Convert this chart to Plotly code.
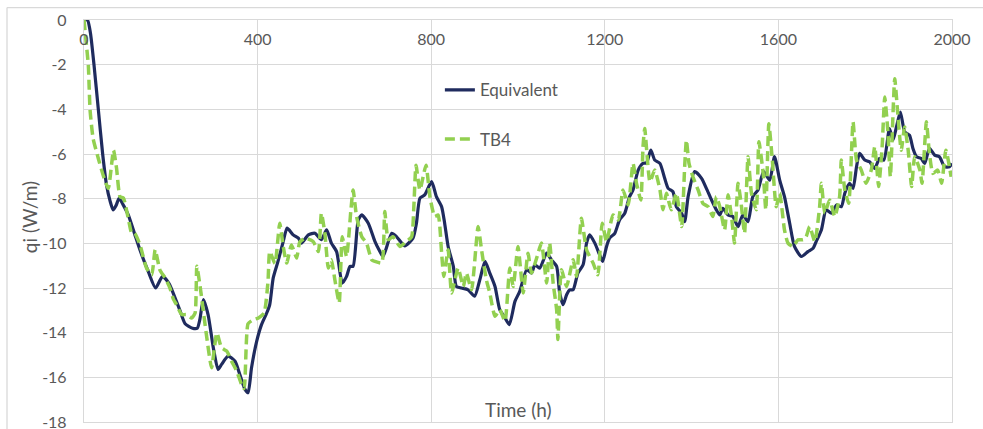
import plotly.graph_objects as go

# ---- Data ----
eq_t = [0, 8, 15, 23, 33, 43, 52, 60, 67, 74, 81, 91, 102, 117, 129, 148, 165, 181, 196, 213,
        221, 233, 250, 261, 267, 275, 286, 298, 309, 317, 332, 348, 359, 371, 378, 386, 398, 409,
        421, 428, 436, 447, 459, 468, 482, 494, 501, 517, 532, 547, 559, 570, 582, 595, 605, 613,
        620, 632, 640, 655, 670, 680, 689, 709, 720, 739, 758, 766, 774, 785, 801, 812, 824, 831,
        839, 851, 858, 870, 885, 900, 912, 924, 935, 947, 958, 970, 980, 993, 1004, 1020, 1031,
        1039, 1050, 1066, 1077, 1089, 1096, 1104, 1112, 1119, 1127, 1138, 1150, 1158, 1165, 1177,
        1188, 1195, 1204, 1211, 1223, 1234, 1246, 1257, 1265, 1277, 1288, 1296, 1306, 1315, 1327,
        1338, 1346, 1357, 1365, 1377, 1384, 1392, 1407, 1423, 1434, 1446, 1457, 1465, 1472, 1484,
        1495, 1507, 1518, 1530, 1541, 1553, 1566, 1580, 1591, 1603, 1614, 1626, 1637, 1653, 1668,
        1680, 1687, 1699, 1710, 1722, 1734, 1745, 1753, 1764, 1772, 1780, 1787, 1799, 1810, 1822,
        1833, 1843, 1856, 1864, 1872, 1881, 1891, 1902, 1910, 1918, 1929, 1937, 1948, 1960, 1971,
        1983, 1994, 2000]
eq_q = [0.0, 0.0, -0.6, -2.0, -4.0, -6.0, -7.4, -8.1, -8.5, -8.3, -7.98, -8.3, -8.73, -9.6, -10.3,
        -11.26, -12.0, -11.48, -11.8, -12.6, -13.0, -13.6, -13.8, -13.8, -13.4, -12.52, -13.2,
        -14.68, -15.65, -15.42, -15.05, -15.28, -15.87, -16.54, -16.69, -15.57, -14.38, -13.64,
        -13.12, -12.74, -11.55, -10.81, -9.92, -9.32, -9.62, -9.77, -9.99, -9.62, -9.55, -9.84,
        -9.4, -9.99, -10.37, -11.78, -11.48, -11.03, -11.03, -8.95, -8.73, -9.1, -9.9, -10.3,
        -10.59, -9.55, -9.7, -10.11, -9.77, -9.1, -7.98, -7.83, -7.24, -7.91, -8.36, -9.1, -10.14,
        -11.03, -11.93, -12.0, -12.08, -12.37, -11.63, -10.81, -11.33, -11.93, -12.97, -13.34,
        -13.64, -12.6, -12.15, -11.18, -11.33, -10.96, -11.11, -10.44, -10.74, -11.03, -12.22,
        -12.75, -12.3, -12.08, -12.08, -11.33, -10.96, -9.99, -9.62, -9.99, -10.51, -10.81,
        -10.14, -9.77, -9.55, -8.95, -8.65, -7.91, -7.61, -6.72, -6.42, -6.4, -5.83, -6.27,
        -6.42, -7.09, -7.54, -7.69, -8.36, -8.65, -9.03, -7.91, -6.79, -7.09, -7.54, -8.06,
        -8.5, -8.73, -8.43, -8.73, -8.8, -9.25, -8.73, -9.03, -7.91, -7.61, -6.79, -7.17, -6.12,
        -7.17, -7.91, -9.1, -10.14, -10.59, -10.37, -10.22, -9.92, -9.4, -8.5, -8.65, -8.28,
        -8.36, -7.76, -7.31, -7.54, -6.57, -5.97, -6.27, -6.35, -6.64, -6.2, -6.27, -4.86, -5.38,
        -4.79, -4.12, -5.01, -5.16, -5.75, -6.12, -6.2, -6.42, -5.75, -6.05, -6.12, -6.57, -6.57,
        -6.42]

tb_t = [0, 5, 10, 14, 21, 33, 44, 56, 68, 75, 83, 91, 102, 110, 117, 129, 144, 156, 164, 175,
        187, 198, 206, 213, 225, 236, 248, 256, 260, 267, 275, 283, 294, 306, 317, 329, 340, 352,
        363, 369, 378, 390, 402, 415, 424, 428, 440, 451, 459, 467, 478, 490, 497, 509, 528, 540,
        547, 555, 563, 570, 578, 588, 595, 605, 615, 620, 628, 640, 651, 663, 670, 686, 693, 701,
        712, 728, 743, 755, 760, 765, 774, 788, 797, 808, 816, 824, 829, 839, 847, 862, 874, 881,
        893, 908, 916, 927, 935, 947, 958, 970, 981, 989, 1000, 1012, 1023, 1031, 1043, 1054,
        1066, 1073, 1081, 1089, 1092, 1100, 1112, 1127, 1135, 1146, 1158, 1173, 1184, 1194, 1204,
        1219, 1231, 1242, 1254, 1265, 1273, 1283, 1288, 1292, 1304, 1315, 1327, 1334, 1342, 1353,
        1365, 1377, 1384, 1388, 1394, 1403, 1415, 1426, 1438, 1449, 1457, 1465, 1476, 1484, 1492,
        1499, 1507, 1515, 1522, 1530, 1538, 1549, 1555, 1565, 1571, 1578, 1586, 1595, 1603, 1614,
        1622, 1634, 1645, 1657, 1664, 1672, 1684, 1695, 1699, 1707, 1718, 1730, 1741, 1745, 1753,
        1762, 1772, 1780, 1791, 1802, 1814, 1822, 1831, 1839, 1845, 1852, 1858, 1868, 1875, 1883,
        1891, 1899, 1907, 1914, 1926, 1931, 1941, 1948, 1956, 1967, 1976, 1986, 1998]
tb_q = [0.0, -1.0, -2.03, -4.04, -5.3, -6.2, -6.94, -7.54, -5.83, -6.64, -7.91, -7.98, -8.88,
        -9.55, -9.55, -10.07, -11.1, -11.41, -10.29, -11.2, -11.55, -12.0, -12.5, -12.74, -13.19,
        -13.19, -13.34, -13.12, -11.03, -11.85, -13.04, -14.23, -15.57, -14.01, -14.68, -14.83,
        -15.28, -15.72, -16.32, -16.5, -13.6, -13.42, -13.34, -13.12, -11.7, -10.37, -10.9, -9.1,
        -10.14, -10.88, -10.07, -10.66, -9.95, -9.77, -9.92, -10.37, -8.65, -9.55, -11.11, -10.74,
        -11.63, -12.67, -9.7, -10.59, -8.5, -7.61, -8.8, -9.7, -9.99, -10.74, -10.81, -10.88,
        -8.58, -9.84, -9.7, -10.14, -9.92, -9.7, -8.36, -6.5, -7.61, -6.5, -7.91, -8.8, -8.73,
        -10.44, -11.48, -10.29, -12.22, -11.11, -11.93, -11.33, -12.08, -9.25, -10.29, -11.63,
        -12.22, -13.27, -12.97, -13.49, -11.11, -11.93, -10.14, -12.22, -10.44, -11.33, -10.66,
        -9.99, -11.78, -9.99, -11.78, -12.97, -14.31, -11.18, -11.93, -10.74, -11.48, -8.88,
        -10.29, -10.88, -11.41, -9.1, -9.92, -8.73, -8.95, -7.61, -8.28, -6.42, -7.31, -8.06,
        -5.68, -4.86, -7.24, -6.72, -7.6, -8.5, -7.76, -8.5, -7.76, -9.25, -6.57, -5.38, -6.42,
        -7.02, -7.61, -8.21, -8.36, -8.8, -7.91, -8.36, -9.4, -7.83, -8.8, -9.99, -7.31, -8.36,
        -9.55, -6.12, -7.76, -8.5, -5.45, -6.87, -8.5, -4.64, -6.27, -8.36, -7.76, -9.4, -9.99,
        -10.14, -9.84, -9.84, -9.7, -9.25, -9.92, -8.36, -7.31, -8.65, -8.06, -8.8, -7.91, -6.27,
        -7.61, -8.21, -4.56, -6.27, -6.72, -7.31, -6.72, -5.68, -7.46, -5.68, -3.45, -4.93, -7.02,
        -2.63, -4.19, -5.83, -4.79, -5.83, -7.46, -6.12, -6.72, -7.31, -4.56, -5.97, -6.87, -6.72,
        -7.31, -5.83, -7.02]

x_ticks = [0, 400, 800, 1200, 1600, 2000]
y_ticks = [0, -2, -4, -6, -8, -10, -12, -14, -16, -18]

NAVY = "#1F2B5E"
GREEN = "#92D050"
GRID = "#D9D9D9"
TXT = "#595959"
FONT = "Lato, 'Open Sans', sans-serif"

fig = go.Figure()
fig.add_trace(go.Scatter(x=eq_t, y=eq_q, mode="lines", name="Equivalent", legendgroup="a",
                         line=dict(color=NAVY, width=3.2, shape="spline", smoothing=0.6)))
fig.add_trace(go.Scatter(x=tb_t, y=tb_q, mode="lines", name="TB4", legendgroup="b",
                         line=dict(color=GREEN, width=3.5, dash="10px,5px", shape="spline",
                                   smoothing=0.5)))

fig.update_layout(
    width=983, height=429,
    margin=dict(l=84, r=31, t=20, b=7, autoexpand=False),
    paper_bgcolor="white", plot_bgcolor="white",
    font=dict(family=FONT, color=TXT, size=16),
    showlegend=True,
    legend=dict(x=0.41, y=0.87, xanchor="left", yanchor="top",
                bgcolor="rgba(0,0,0,0)", font=dict(size=17, color=TXT),
                tracegroupgap=24),
    xaxis=dict(range=[0, 2000], side="top", tickvals=x_ticks,
               ticktext=[str(v) for v in x_ticks],
               ticklabelposition="inside", ticklabeloverflow="allow",
               ticks="", ticklabelstandoff=14, automargin=False,
               showgrid=True, gridcolor=GRID, gridwidth=1.3,
               showline=True, linecolor=GRID, linewidth=1.3, mirror=True,
               zeroline=False, tickfont=dict(size=16, color=TXT)),
    yaxis=dict(range=[-18, 0], tickvals=y_ticks, ticktext=[str(v) for v in y_ticks],
               ticks="", ticklabelstandoff=13, ticklabeloverflow="allow", automargin=False,
               showgrid=True, gridcolor=GRID, gridwidth=1.3,
               showline=True, linecolor=GRID, linewidth=1.3, mirror=True,
               zeroline=False, tickfont=dict(size=16, color=TXT)),
)

# axis titles placed where the reference shows them
fig.add_annotation(text="Time (h)", xref="paper", yref="paper", x=0.5, y=0.03,
                   xanchor="center", yanchor="middle", showarrow=False,
                   font=dict(size=19, color=TXT, family=FONT))
fig.add_annotation(text="qi (W/m)", xref="paper", yref="paper", x=-0.062, y=0.51,
                   xanchor="center", yanchor="middle", textangle=-90, showarrow=False,
                   font=dict(size=19, color=TXT, family=FONT))

# chart-area border (top and left edges visible in the reference)
fig.add_shape(type="line", xref="paper", yref="paper", x0=-0.0887, x1=1.1, y0=1.031, y1=1.031,
              line=dict(color=GRID, width=1.3))
fig.add_shape(type="line", xref="paper", yref="paper", x0=-0.0887, x1=-0.0887, y0=-0.1, y1=1.031,
              line=dict(color=GRID, width=1.3))

fig.write_html("out.html")
